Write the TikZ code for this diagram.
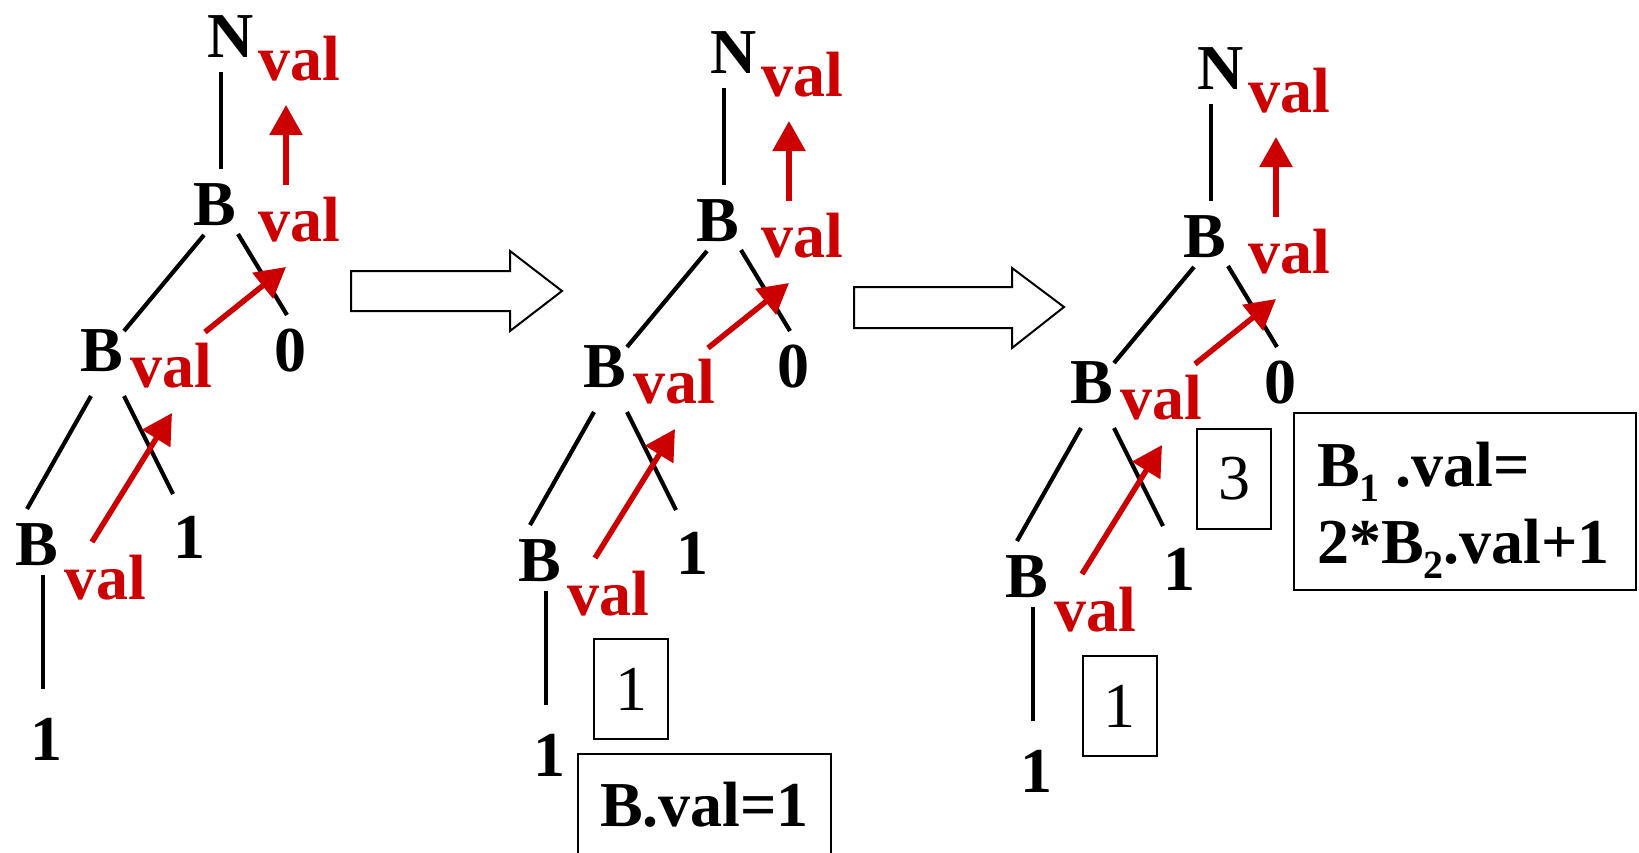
\documentclass[tikz,border=0pt]{standalone}
\usepackage{fontspec}
\setmainfont{Liberation Serif}
\usetikzlibrary{arrows.meta}
\definecolor{valred}{RGB}{204,0,0}
\newcommand\lowsub[1]{\raisebox{-15pt}{\fontsize{40}{40}\selectfont #1}}
\tikzset{
  lbl/.style={inner sep=0pt, outer sep=0pt, anchor=base west,
    font=\fontsize{64}{64}\selectfont\bfseries},
  digit/.style={lbl, anchor=base},
  attr/.style={lbl, text=valred},
  edge/.style={line width=4.2pt},
  flow/.style={draw=valred, line width=5.5pt, -{Triangle[length=30pt,width=32pt]}},
  frame/.style={draw, line width=2pt},
  valbox/.style={frame, inner sep=0pt, minimum width=74pt, minimum height=100pt,
    font=\fontsize{64}{64}\selectfont},
  bigarrow/.style={draw, line width=2pt, line join=miter},
  % parse tree of "1 1 0" with the synthesized attribute val
  tree/.pic={
    \node[lbl]   (-N)   at (207,57)  {N};
    \node[attr]  (-Nv)  at (258,80)  {val};
    \node[lbl]   (-B1)  at (193,225) {B};
    \node[attr]  (-B1v) at (258,241) {val};
    \node[lbl]   (-B2)  at (80,371)  {B};
    \node[attr]  (-B2v) at (130,387) {val};
    \node[digit] (-d0)  at (290,371) {0};
    \node[lbl]   (-B3)  at (15,565)  {B};
    \node[attr]  (-B3v) at (64,599)  {val};
    \node[digit] (-d1)  at (189,558) {1};
    \node[digit] (-d2)  at (46.5,760) {1};
    % edge end points
    \coordinate (-nb)  at (221,72);   \coordinate (-bn)  at (221,169);
    \coordinate (-bl)  at (204,235);  \coordinate (-lb)  at (124,331);
    \coordinate (-br)  at (238,234);  \coordinate (-rb)  at (287,315);
    \coordinate (-cl)  at (91,396);   \coordinate (-lc)  at (27,509);
    \coordinate (-cr)  at (124,396);  \coordinate (-rc)  at (173,494);
    \coordinate (-dl)  at (43,575);   \coordinate (-ld)  at (43,689);
    \draw[edge] (-nb) -- (-bn);
    \draw[edge] (-bl) -- (-lb);
    \draw[edge] (-br) -- (-rb);
    \draw[edge] (-cl) -- (-lc);
    \draw[edge] (-cr) -- (-rc);
    \draw[edge] (-dl) -- (-ld);
    % flow of val upwards
    \coordinate (-f1a) at (286,185);  \coordinate (-f1b) at (286,105);
    \coordinate (-f2a) at (205,332);  \coordinate (-f2b) at (286,267);
    \coordinate (-f3a) at (92,542);   \coordinate (-f3b) at (172,413);
    \draw[flow] (-f1a) -- (-f1b);
    \draw[flow] (-f2a) -- (-f2b);
    \draw[flow] (-f3a) -- (-f3b);
  }
}
\begin{document}
\begin{tikzpicture}[x=1pt,y=-1pt]
\useasboundingbox (0,0) rectangle (1639,852);
\clip (0,0) rectangle (1639,852);

% three stages of the evaluation
\pic (t1) at (0,0)    {tree};
\pic (t2) at (503,16) {tree};
\pic (t3) at (990,32) {tree};

% block arrows between the stages
\draw[bigarrow] (351,271) -- (510,271) -- (510,251) -- (562,291)
  -- (510,331) -- (510,311) -- (351,311) -- cycle;
\draw[bigarrow] (854,287) -- (1012,287) -- (1012,268) -- (1064,307)
  -- (1012,348) -- (1012,328) -- (854,328) -- cycle;

% stage 2: first value
\node[valbox] (v21) at (631,689) {1};
\draw[frame] (578,870) -- (578,754) -- (831,754) -- (831,870);
\node[lbl] (rule2) at (600,826) {B.val=1};

% stage 3: second value and its rule
\node[valbox] (v31) at (1119.5,706) {1};
\node[valbox] (v33) at (1234,478.5) {3};
\draw[frame] (1294,413) rectangle (1636,590);
\node[lbl] (rule3a) at (1317,486) {B\lowsub{1} .val=};
\node[lbl] (rule3b) at (1317,563) {2*B\lowsub{2}.val+1};
\end{tikzpicture}
\end{document}
